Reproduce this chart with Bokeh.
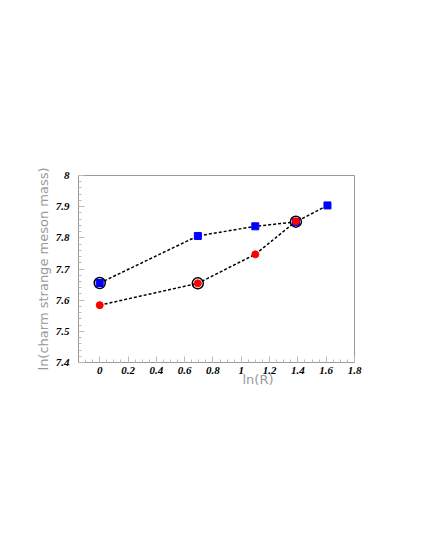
import numpy as np
from bokeh.plotting import figure
from bokeh.models import Range1d, Title, FixedTicker
from bokeh.embed import file_html
from bokeh.resources import INLINE

# data
blue_x = [0.0, 0.693, 1.099, 1.386, 1.609]
blue_y = [7.655, 7.806, 7.837, 7.851, 7.904]
red_x = [0.0, 0.693, 1.099, 1.386]
red_y = [7.584, 7.654, 7.747, 7.853]
ring_x = [0.0, 0.693, 1.386]
ring_y = [7.655, 7.654, 7.852]
x_title = "ln(R)"
y_title = "ln(charm strange meson mass)"

p = figure(width=409, height=534, output_backend="svg", toolbar_location=None,
           x_range=Range1d(-0.15, 1.8), y_range=Range1d(7.4, 8.0),
           min_border_left=78, min_border_right=55, min_border_top=175, min_border_bottom=172)
p.background_fill_color = "white"
p.border_fill_color = "white"
p.outline_line_color = "#9a9a9a"
p.outline_line_width = 1
p.grid.visible = False

p.xaxis.ticker = FixedTicker(ticks=[0, 0.2, 0.4, 0.6, 0.8, 1.0, 1.2, 1.4, 1.6, 1.8],
                             minor_ticks=list(np.round(np.arange(-0.15, 1.81, 0.05), 2)))
p.yaxis.ticker = FixedTicker(ticks=[7.4, 7.5, 7.6, 7.7, 7.8, 7.9, 8.0],
                             minor_ticks=list(np.round(np.arange(7.4, 8.001, 0.02), 2)))
p.xaxis.major_label_overrides = {0: "0", 1.0: "1"}
p.yaxis.major_label_overrides = {8.0: "8"}
for ax in (p.xaxis, p.yaxis):
    ax.axis_line_color = "#9a9a9a"
    ax.major_tick_in = 6
    ax.major_tick_out = 0
    ax.minor_tick_in = 3
    ax.minor_tick_out = 0
    ax.major_tick_line_color = "#bbbbbb"
    ax.minor_tick_line_color = "#bbbbbb"
    ax.major_label_text_font = "Liberation Serif"
    ax.major_label_text_font_style = "bold italic"
    ax.major_label_text_font_size = "11px"
    ax.major_label_text_color = "black"
p.xaxis.major_label_standoff = 4
p.yaxis.major_label_standoff = 9

p.yaxis.axis_label = y_title
p.yaxis.axis_label_text_font = "DejaVu Sans"
p.yaxis.axis_label_text_font_style = "normal"
p.yaxis.axis_label_text_font_size = "13px"
p.yaxis.axis_label_text_color = "#999999"
p.yaxis.axis_label_standoff = 2

p.line(blue_x, blue_y, line_color="black", line_dash="3 2", line_width=1.5)
p.line(red_x, red_y, line_color="black", line_dash="3 2", line_width=1.5)
p.scatter(ring_x, ring_y, marker="circle", size=11, fill_color=None,
          line_color="black", line_width=1.5)
p.scatter(blue_x, blue_y, marker="square", size=7, fill_color="#0000ff", line_color="#0000ff")
p.scatter(red_x, red_y, marker="circle", size=7, fill_color="#ff0000", line_color="#ff0000")

p.add_layout(Title(text=x_title, align="left", offset=164, standoff=-13,
                   text_font="DejaVu Sans", text_font_size="13px", text_font_style="normal",
                   text_color="#999999"), "below")

open("out.html", "w").write(file_html(p, INLINE))
